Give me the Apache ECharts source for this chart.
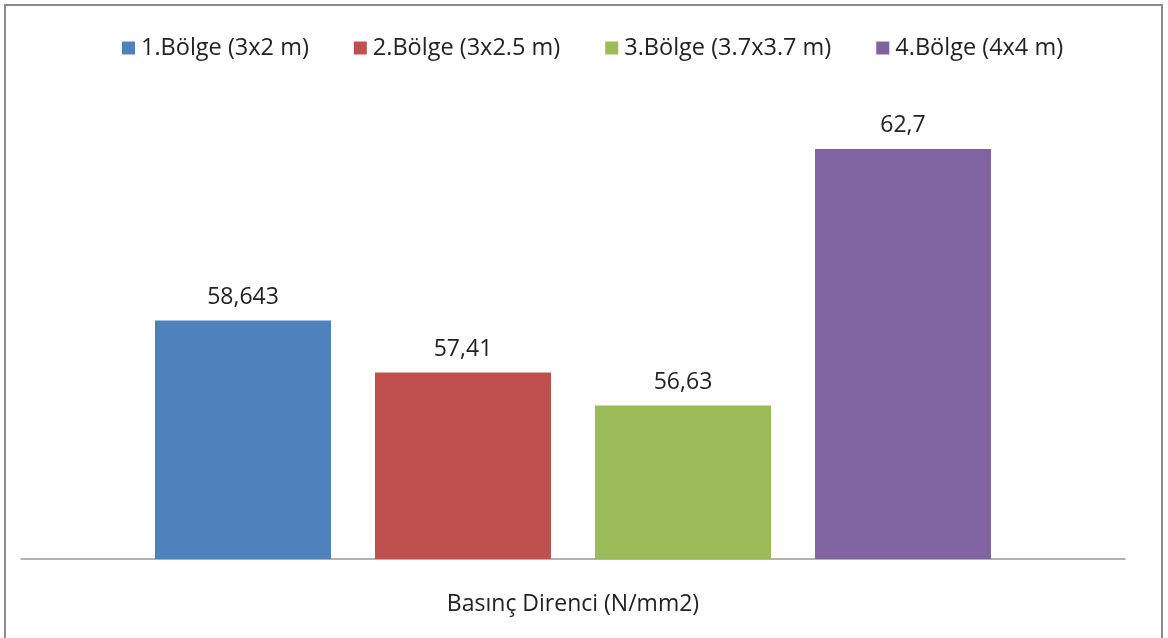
<!DOCTYPE html>
<html><head><meta charset="utf-8">
<script src="https://cdn.jsdelivr.net/npm/echarts@6/dist/echarts.min.js"></script>
<style>
html,body{margin:0;padding:0;background:#fff;}
#frame{position:absolute;left:4px;top:4px;width:1159px;height:660px;border:2px solid #8c8c8c;box-sizing:border-box;}
#chart{position:absolute;left:0;top:0;width:1168px;height:638px;}
</style></head>
<body>
<div id="frame"></div>
<div id="chart"></div>
<script>
const categories = ['Basınç Direnci (N/mm2)'];
const seriesNames = ['1.Bölge (3x2 m)', '2.Bölge (3x2.5 m)', '3.Bölge (3.7x3.7 m)', '4.Bölge (4x4 m)'];
const values1 = [58.643];
const values2 = [57.41];
const values3 = [56.63];
const values4 = [62.7];
const colors = ['#4F81BD', '#C0504D', '#9BBB59', '#8064A2'];
const allValues = [values1, values2, values3, values4];

const font = '"Open Sans", "DejaVu Sans", sans-serif';
const chart = echarts.init(document.getElementById('chart'));
chart.setOption({
  animation: false,
  textStyle: {fontFamily: font},
  legend: {
    top: 31, left: 117, itemWidth: 13, itemHeight: 13, itemGap: 45, icon: 'rect',
    textStyle: {fontSize: 23.5, color: '#222', fontFamily: font, padding: [0, 0, 0, 1]}
  },
  grid: {left: 21, right: 43, top: 94, bottom: 79},
  xAxis: {
    type: 'category', data: categories,
    axisLine: {lineStyle: {color: '#999', width: 1.5}},
    axisTick: {show: false},
    axisLabel: {margin: 34, fontSize: 23, color: '#222', fontFamily: font}
  },
  yAxis: {
    type: 'value', min: 53, max: 64, show: false,
    splitLine: {show: false}
  },
  series: allValues.map((v, i) => ({
    name: seriesNames[i], type: 'bar', data: v,
    barWidth: 176, barGap: '25%',
    itemStyle: {color: colors[i]},
    label: {
      show: true, position: 'top', distance: 12, fontSize: 23, color: '#222', fontFamily: font,
      formatter: p => String(p.value).replace('.', ',')
    }
  }))
});
</script>
</body></html>
